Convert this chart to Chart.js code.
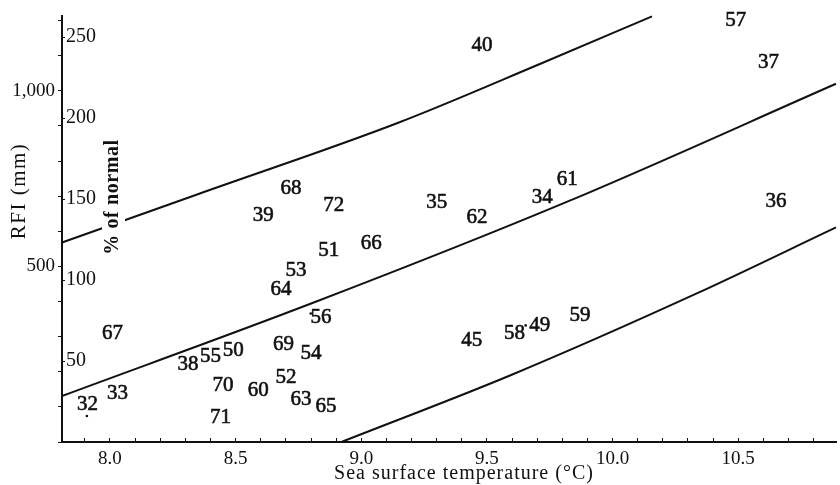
<!DOCTYPE html>
<html>
<head>
<meta charset="utf-8">
<script src="https://cdn.jsdelivr.net/npm/chart.js@4/dist/chart.umd.min.js"></script>
<style>
  html, body { margin: 0; padding: 0; background: #fff; }
  canvas { display: block; }
</style>
</head>
<body>
<canvas id="c" width="840" height="485"></canvas>
<script>
// ---- Data ----
// Year labels (19xx) plotted at (sea surface temperature °C, RFI mm)
const years = ['32','33','67','38','55','50','70','71','60','69','52','63','65','54','56','64','53','51','66','39','68','72','35','62','34','61','40','57','37','36','45','58','49','59'];
const sst   = [7.91, 8.03, 8.01, 8.31, 8.40, 8.49, 8.45, 8.44, 8.59, 8.69, 8.70, 8.76, 8.86, 8.80, 8.84, 8.68, 8.74, 8.87, 9.04, 8.61, 8.72, 8.89, 9.30, 9.46, 9.72, 9.82, 9.48, 10.49, 10.62, 10.65, 9.44, 9.61, 9.71, 9.87];
const rfi   = [111, 142, 313, 224, 247, 264, 165, 74, 151, 281, 188, 125, 105, 256, 358, 440, 492, 551, 571, 651, 727, 679, 688, 645, 702, 753, 1134, 1205, 1085, 690, 293, 315, 335, 364];

// Small dots printed beside some labels
const dotSst = [7.908, 8.799, 9.654];
const dotRfi = [74, 366, 332];

// Three curves
const upperX  = [7.809, 8.355, 9.147, 9.713, 10.157];
const upperY  = [568, 707, 909, 1077, 1212];
const middleX = [7.809, 8.803, 9.832, 10.889];
const middleY = [131, 395, 688, 1020];
const lowerX  = [8.921, 9.594, 10.335, 10.889];
const lowerY  = [0, 190, 423, 611];

// Axis ranges and tick labels
const xMin = 7.809, xMax = 10.889;
const yMin = 0, yMax = 1213;        // RFI (mm)
const pctMin = 0, pctMax = 263;     // % of normal
const rfiTickLabels = { 500: '500', 1000: '1,000' };
const pctTickLabels = { 50: '50', 100: '100', 150: '150', 200: '200', 250: '250' };

const FONT = 'Liberation Serif';
const INK = '#111';

const zip = (xs, ys) => xs.map((x, i) => ({ x: x, y: ys[i] }));

const annotPlugin = {
  id: 'annot',
  afterDatasetsDraw(chart) {
    const ctx = chart.ctx;
    const ca = chart.chartArea;
    ctx.save();
    // year labels at the library-computed point positions
    const meta = chart.getDatasetMeta(0);
    const fs = 21;
    ctx.font = fs + 'px "' + FONT + '"';
    ctx.fillStyle = INK;
    ctx.strokeStyle = INK;
    ctx.lineWidth = 0.6;
    ctx.textAlign = 'center';
    ctx.textBaseline = 'alphabetic';
    meta.data.forEach((el, i) => {
      ctx.fillText(years[i], el.x, el.y + 0.34 * fs);
      ctx.strokeText(years[i], el.x, el.y + 0.34 * fs);
    });

    // "% of normal" inner axis title (white gap in the curve behind it)
    ctx.fillStyle = '#fff';
    ctx.fillRect(ca.left + 40, ca.top + 120, 23, 120);
    ctx.save();
    ctx.translate(ca.left + 51, ca.top + 181);
    ctx.rotate(-Math.PI / 2);
    ctx.fillStyle = INK;
    ctx.font = 'bold 20px "' + FONT + '"';
    ctx.letterSpacing = '0.6px';
    ctx.textAlign = 'center';
    ctx.textBaseline = 'middle';
    ctx.fillText('% of normal', 0, 0);
    ctx.restore();

    // left title
    ctx.save();
    ctx.translate(19, ca.top + 175);
    ctx.rotate(-Math.PI / 2);
    ctx.fillStyle = INK;
    ctx.font = '21px "' + FONT + '"';
    ctx.letterSpacing = '1.5px';
    ctx.textAlign = 'center';
    ctx.textBaseline = 'middle';
    ctx.fillText('RFI (mm)', 0, 0);
    ctx.restore();

    // bottom title
    ctx.save();
    ctx.fillStyle = INK;
    ctx.font = '20px "' + FONT + '"';
    ctx.letterSpacing = '1px';
    ctx.textAlign = 'center';
    ctx.textBaseline = 'middle';
    ctx.fillText('Sea surface temperature (\u00B0C)', ca.left + 402, ca.bottom + 32);
    ctx.restore();

    ctx.restore();
  }
};

const lineStyle = {
  showLine: true,
  borderColor: INK,
  borderWidth: 2,
  pointRadius: 0,
  pointHoverRadius: 0,
  cubicInterpolationMode: 'monotone',
  fill: false,
  clip: false
};

new Chart(document.getElementById('c'), {
  type: 'scatter',
  data: {
    datasets: [
      { label: 'years', data: zip(sst, rfi), pointRadius: 0, pointHoverRadius: 0, showLine: false },
      { label: 'dots', data: zip(dotSst, dotRfi), pointRadius: 1.3, backgroundColor: INK, borderWidth: 0, showLine: false },
      Object.assign({ label: 'upper', data: zip(upperX, upperY) }, lineStyle),
      Object.assign({ label: 'middle', data: zip(middleX, middleY) }, lineStyle),
      Object.assign({ label: 'lower', data: zip(lowerX, lowerY) }, lineStyle)
    ]
  },
  options: {
    responsive: false,
    devicePixelRatio: 1,
    animation: false,
    events: [],
    layout: { padding: { top: 15, right: 0, bottom: 0, left: 0 } },
    plugins: { legend: { display: false }, tooltip: { enabled: false }, title: { display: false } },
    scales: {
      x: {
        type: 'linear', position: 'bottom', min: xMin, max: xMax,
        afterFit: s => { s.height = 43; },
        border: { display: true, color: INK, width: 2 },
        grid: { drawOnChartArea: false, drawTicks: true, tickLength: -4, color: INK, lineWidth: 1 },
        ticks: {
          stepSize: 0.1, includeBounds: false, autoSkip: false, maxRotation: 0, minRotation: 0,
          padding: 10, color: INK, font: { family: FONT, size: 19 },
          callback: v => { const r = Math.round(v * 10); return r % 5 === 0 ? (r / 10).toFixed(1) : ''; }
        }
      },
      y: {
        type: 'linear', position: 'left', weight: 1, min: yMin, max: yMax,
        afterFit: s => { s.width = 62; },
        border: { display: true, color: INK, width: 2 },
        grid: { drawOnChartArea: false, drawTicks: true, tickLength: 4, color: INK, lineWidth: 1 },
        ticks: {
          stepSize: 100, includeBounds: false, autoSkip: false, padding: 3, color: INK,
          font: { family: FONT, size: 19 },
          callback: v => rfiTickLabels[Math.round(v)] || ''
        }
      },
      y2: {
        type: 'linear', position: 'left', weight: 0, min: pctMin, max: pctMax,
        afterFit: s => { s.width = 0; },
        border: { display: false },
        grid: { drawOnChartArea: false, drawTicks: true, tickLength: -3, color: INK, lineWidth: 1 },
        ticks: {
          mirror: true, stepSize: 50, includeBounds: false, autoSkip: false, padding: 4, color: INK,
          font: { family: FONT, size: 20 },
          callback: v => pctTickLabels[Math.round(v)] || ''
        }
      }
    }
  },
  plugins: [annotPlugin]
});
</script>
</body>
</html>
